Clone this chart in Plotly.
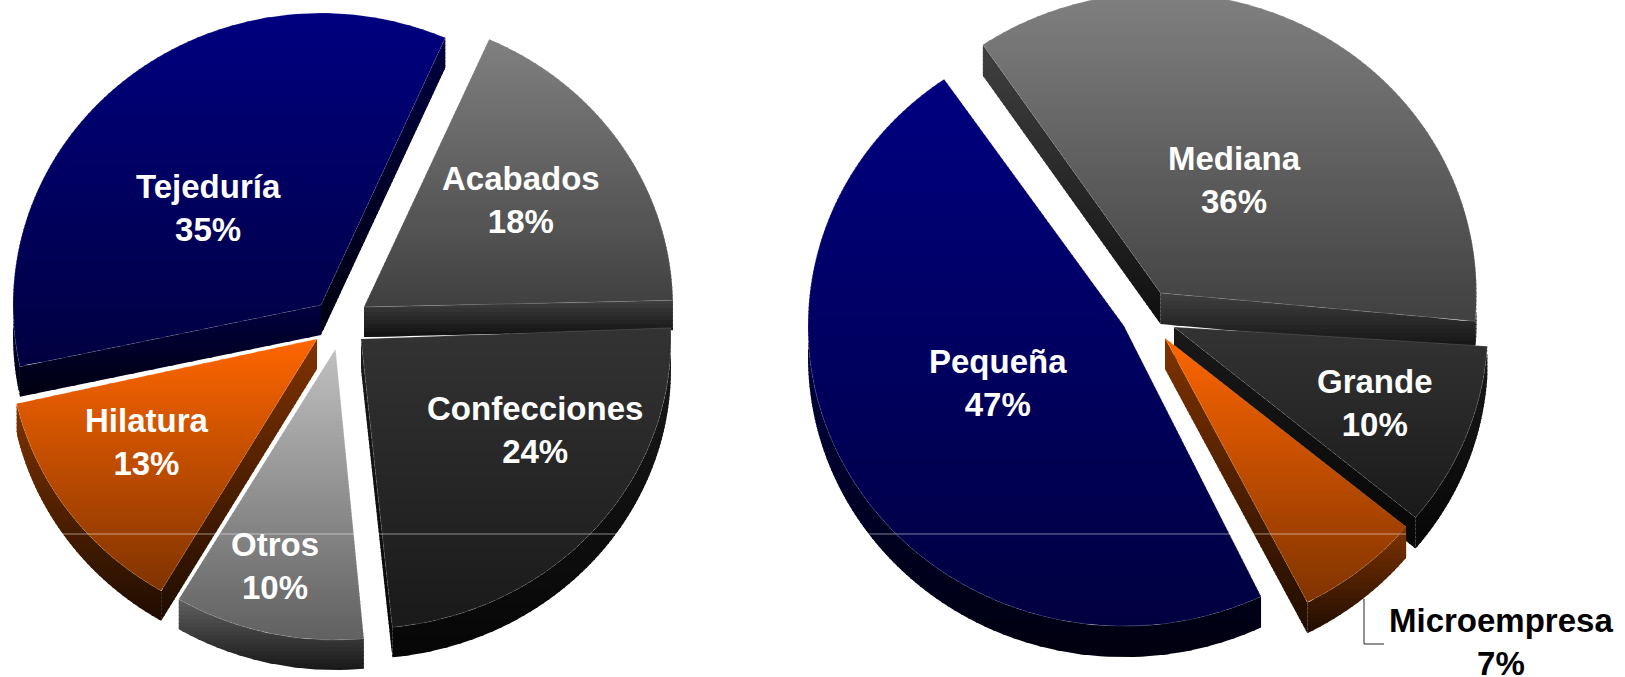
import math
import plotly.graph_objects as go

# ---- data ----
left_names = ["Acabados", "Confecciones", "Otros", "Hilatura", "Tejeduría"]
left_values = [18, 24, 10, 13, 35]
left_labels = ["18%", "24%", "10%", "13%", "35%"]

right_names = ["Mediana", "Grande", "Microempresa", "Pequeña"]
right_values = [36, 10, 6.5, 47.5]
right_labels = ["36%", "10%", "7%", "47%"]

# ---- styling / layout (canvas pixels) ----
W, H = 1625, 677
NAVY, GREY, DARK, ORANGE, LIGHT = (0, 0, 128), (128, 128, 128), (51, 51, 51), (255, 102, 0), (192, 192, 192)

left_style = dict(
    rotation=23.5, depth=30,
    squash=[0.948, 0.935, 0.948, 0.948, 0.948],
    colors=[GREY, DARK, LIGHT, ORANGE, NAVY],
    tips=[(364, 307), (361, 339), (335.5, 349), (317, 339), (321, 305)],
    radii=[309, 310, 307, 308, 308],
    nudges=[0.4, -0.5, 0, -0.3, 0.3],
    label_xy=[(521, 200), (535, 430), (274.5, 565.5), (146.5, 442), (208, 208)],
    label_color=["white"] * 5,
)
right_style = dict(
    rotation=325.5, depth=31,
    squash=[0.95, 0.95, 0.95, 0.95],
    colors=[GREY, DARK, ORANGE, NAVY],
    tips=[(1160.5, 293), (1174, 327), (1165, 338), (1124, 326)],
    radii=[316, 314, 312.5, 316],
    nudges=[0.3, -1.4, -1.6, -0.2],
    label_xy=[(1234, 179.5), (1374.5, 403), (1500.5, 642), (998, 383)],
    label_color=["white", "white", "black", "white"],
)
BAND = 4
fig = go.Figure()


def scale(c, k):
    return tuple(v * k for v in c)


def rgb(c):
    return "rgb(%d,%d,%d)" % tuple(round(v) for v in c)


def clip(poly, y, keep_below):
    out = []
    n = len(poly)
    for i in range(n):
        p, q = poly[i], poly[(i + 1) % n]
        pin = p[1] >= y if keep_below else p[1] <= y
        qin = q[1] >= y if keep_below else q[1] <= y
        if pin:
            out.append(p)
        if pin != qin:
            t = (y - p[1]) / (q[1] - p[1])
            out.append((p[0] + t * (q[0] - p[0]), y))
    return out


def gradient(poly, top, bot):
    ys = [p[1] for p in poly]
    lo, hi = math.floor(min(ys)), math.ceil(max(ys))
    span = max(hi - lo, 1)
    y = lo
    while y < hi:
        y2 = min(y + BAND, hi)
        if y2 > 0:
            # each band runs 1px under the next one, which paints over the join
            part = clip(clip(poly, y, True), y2 + 1, False)
            if len(part) >= 3:
                t = (y + y2 - 2 * lo) / 2 / span
                col = tuple(a + (b - a) * t for a, b in zip(top, bot))
                fig.add_trace(go.Scatter(
                    x=[p[0] for p in part] + [part[0][0]],
                    y=[p[1] for p in part] + [part[0][1]],
                    mode="lines", fill="toself", fillcolor=rgb(col),
                    line=dict(width=0), hoverinfo="skip", showlegend=False))
        y = y2


def draw_pie(values, names, labels, st):
    total = sum(values)
    a = st["rotation"]
    d = st["depth"]
    for i, v in enumerate(values):
        sweep = v / total * 360
        a0, a1 = a + st["nudges"][i], a + sweep + st["nudges"][i]
        a += sweep
        tx, ty = st["tips"][i]
        r = st["radii"][i]
        sq = st["squash"][i]
        c = st["colors"][i]

        def pt(deg):
            t = math.radians(deg)
            return (tx + r * math.sin(t), ty - r * sq * math.cos(t))

        def arc(s, e):
            n = max(int((e - s) / 1.5), 2)
            return [pt(s + (e - s) * k / n) for k in range(n + 1)]

        def down(pts):
            return [(x, y + d) for x, y in pts]

        wall_top, wall_bot = scale(c, 0.5), scale(c, 0.12)
        # radial walls whose outward side faces the viewer
        for edge, normal in ((a0, a0 - 90), (a1, a1 + 90)):
            if math.cos(math.radians(normal)) < 0:
                seg = [(tx, ty), pt(edge)]
                gradient(seg + down(seg)[::-1], wall_top, wall_bot)
        # curved outer wall (front half only)
        for k in (0, 360):
            s, e = max(a0, 90 + k), min(a1, 270 + k)
            if e > s:
                seg = arc(s, e)
                gradient(seg + down(seg)[::-1], wall_top, wall_bot)
        # top face
        face = [(tx, ty)] + arc(a0, a1)
        gradient(face, c, scale(c, 0.5))
        fig.add_trace(go.Scatter(
            x=[p[0] for p in face] + [tx], y=[p[1] for p in face] + [ty],
            mode="lines", line=dict(width=0.6, color="rgba(255,255,255,0.22)"),
            hoverinfo="skip", showlegend=False))
    for i, name in enumerate(names):
        x, y = st["label_xy"][i]
        fig.add_annotation(x=x, y=y, text=f"<b>{name}<br>{labels[i]}</b>", showarrow=False,
                           xanchor="center", yanchor="middle", align="center",
                           font=dict(family="Liberation Sans, Arial, sans-serif", size=33,
                                     color=st["label_color"][i]))


draw_pie(left_values, left_names, left_labels, left_style)
draw_pie(right_values, right_names, right_labels, right_style)

# faint horizontal rendering seam across both pies
for xs in ((62, 617), (865, 1406)):
    fig.add_trace(go.Scatter(x=list(xs), y=[534, 534], mode="lines",
                             line=dict(width=1, color="rgba(255,255,255,0.5)"),
                             hoverinfo="skip", showlegend=False))
# leader line of Microempresa
fig.add_trace(go.Scatter(x=[1364, 1364, 1384], y=[599, 644, 644], mode="lines",
                         line=dict(width=1, color="#222222"),
                         hoverinfo="skip", showlegend=False))

fig.update_layout(
    width=W, height=H, margin=dict(l=0, r=0, t=0, b=0),
    paper_bgcolor="white", plot_bgcolor="white", showlegend=False,
    xaxis=dict(range=[0, W], visible=False, fixedrange=True),
    yaxis=dict(range=[H, 0], visible=False, fixedrange=True),
)
fig.write_html("out.html", config={"displayModeBar": False},
               post_script="document.body.style.margin='0';document.body.style.overflow='hidden';")
